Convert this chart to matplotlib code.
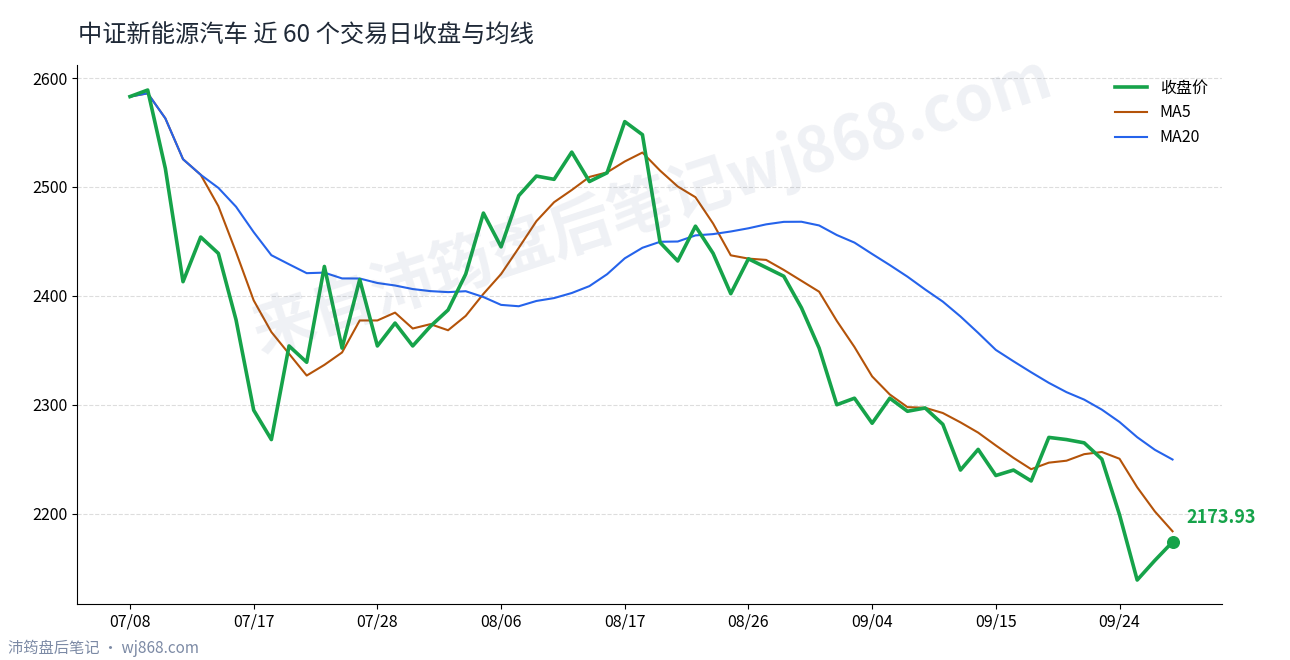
import matplotlib
matplotlib.use("Agg")
import matplotlib.pyplot as plt
import pandas as pd

plt.rcParams['font.family'] = ['Noto Sans CJK SC', 'DejaVu Sans']

dates = pd.bdate_range("2026-07-08", "2026-09-29")
close = [2583, 2589, 2517, 2413, 2454, 2439, 2378, 2295, 2268, 2354,
         2339, 2427, 2352, 2415, 2354, 2375, 2354, 2372, 2387, 2420,
         2476, 2445, 2492, 2510, 2507, 2532, 2505, 2513, 2560, 2548,
         2449, 2432, 2464, 2439, 2402, 2434, 2426, 2418, 2389, 2352,
         2300, 2306, 2283, 2306, 2294, 2297, 2282, 2240, 2259, 2235,
         2240, 2230, 2270, 2268, 2265, 2250, 2199, 2139, 2157, 2173.93]
tick_idx = [0, 7, 14, 21, 28, 35, 42, 49, 56]

s = pd.Series(close)
ma5 = s.rolling(5, min_periods=1).mean()
ma20 = s.rolling(20, min_periods=1).mean()
x = list(range(len(close)))

fig = plt.figure(figsize=(12.9, 6.6), dpi=100)
ax = fig.add_axes([77 / 1290, 56 / 660, (1222 - 77) / 1290, (604 - 65) / 660])

green = "#16a34a"
ax.plot(x, close, color=green, lw=2.6, label="收盘价", zorder=4)
ax.plot(x, ma5, color="#b45309", lw=1.5, label="MA5", zorder=3)
ax.plot(x, ma20, color="#2563eb", lw=1.5, label="MA20", zorder=3)
ax.scatter([x[-1]], [close[-1]], color=green, s=70, zorder=5)
ax.annotate(f"{close[-1]:.2f}", (x[-1], close[-1]), xytext=(10, 14),
            textcoords="offset points", color=green, fontsize=13, fontweight="bold")

ax.set_xlim(-3, 61.8)
ax.set_ylim(2117, 2612)
ax.set_yticks([2200, 2300, 2400, 2500, 2600])
ax.set_xticks(tick_idx)
ax.set_xticklabels([dates[i].strftime("%m/%d") for i in tick_idx])
ax.tick_params(labelsize=11.5)
ax.grid(axis="y", linestyle="--", color="#dddddd", lw=0.8)
for sp in ("top", "right"):
    ax.spines[sp].set_visible(False)
ax.legend(loc="upper right", frameon=False, fontsize=11.5, bbox_to_anchor=(1.0, 1.0))

fig.text(0.505, 0.69, "来自沛筠盘后笔记wj868.com", fontsize=45, color="#334a7a",
         alpha=0.08, rotation=18, ha="center", va="center", fontweight="bold")
fig.text(78 / 1290, 1 - 36 / 660, "中证新能源汽车 近 60 个交易日收盘与均线",
         fontsize=17.5, color="#1f2937", va="center")
fig.text(8 / 1290, 1 - 648 / 660, "沛筠盘后笔记 · wj868.com", fontsize=11,
         color="#7c8aa5", va="center")

fig.savefig("out.png", dpi=100)
